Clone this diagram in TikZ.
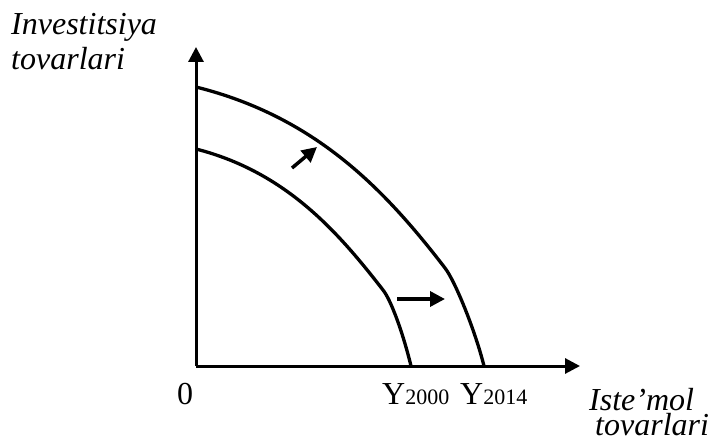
\documentclass[tikz,border=0pt]{standalone}
\usepackage{fontspec}
\setmainfont{Liberation Serif}
\usetikzlibrary{arrows.meta}
\begin{document}
\begin{tikzpicture}[x=1pt,y=-1pt,
  axisline/.style={line width=3pt,-{Triangle[length=15pt,width=15pt]}},
  curveline/.style={line width=3.3pt},
  shiftarrow/.style={line width=3.5pt,-{Triangle[length=15pt,width=15pt]}},
  lbl/.style={inner sep=0pt,anchor=base west,font=\fontsize{32}{38}\selectfont},
  twoline/.style={inner sep=0pt,anchor=south west,align=left,text depth=0pt},
  ]
\useasboundingbox (0,0) rectangle (712,441);
% axes
\coordinate (O) at (196,366);
\coordinate (ytop) at (196,47);
\coordinate (xend) at (580,366);
\draw[axisline] (O) -- (ytop);
\draw[axisline] (O) -- (xend);
% curves
\coordinate (outerA) at (196,87);
\coordinate (outerK) at (445,268);
\coordinate (outerB) at (484,366);
\coordinate (innerA) at (196,149);
\coordinate (innerK) at (383,290);
\coordinate (innerB) at (411,366);
\draw[curveline] (outerA) .. controls (316,117) and (385,190) .. (outerK)
  .. controls (455,281) and (475,330) .. (outerB);
\draw[curveline] (innerA) .. controls (286,172) and (338,232) .. (innerK)
  .. controls (391,300) and (403,333) .. (innerB);
% shift arrows
\coordinate (d1) at (292,168);
\coordinate (d2) at (317,147);
\coordinate (h1) at (397,299);
\coordinate (h2) at (445,299);
\draw[shiftarrow] (d1) -- (d2);
\draw[shiftarrow] (h1) -- (h2);
% labels
\node[twoline,font=\fontsize{32}{35}\selectfont\itshape] (ylab) at (11,70) {Investitsiya\\tovarlari};
\node[lbl] (zero) at (177,404) {0};
\node[lbl] (y2000) at (382,404) {Y{\fontsize{22}{26}\selectfont 2000}};
\node[lbl] (y2014) at (460,404) {Y{\fontsize{22}{26}\selectfont 2014}};
\node[twoline,font=\fontsize{32}{25}\selectfont\itshape] (xlab) at (589,436) {Iste’mol\\\hspace*{6pt}tovarlari};
\end{tikzpicture}
\end{document}
